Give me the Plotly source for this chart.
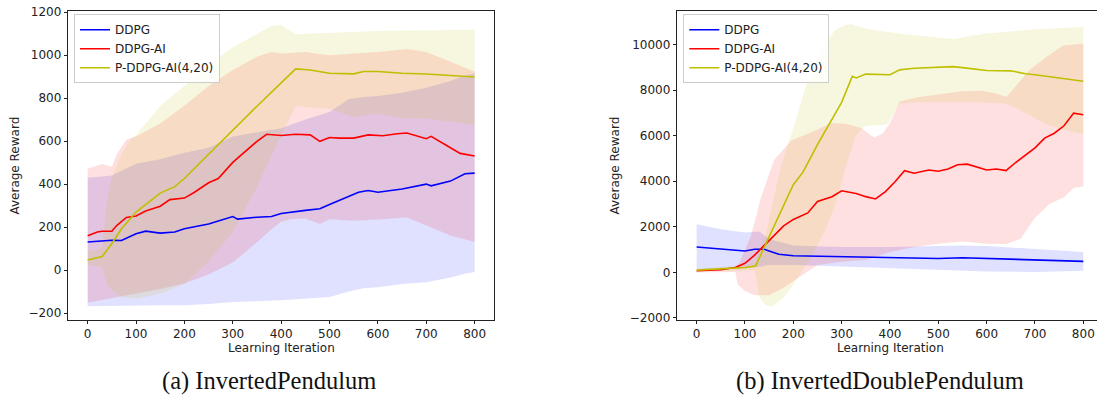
import plotly.graph_objects as go

# ---------------- (a) InvertedPendulum ----------------
ip_ddpg_x = [0, 50, 70, 100, 120, 150, 180, 200, 250, 300, 310, 350, 380, 400, 450, 480, 500, 530, 560, 580, 600, 650, 700, 710, 750, 780, 800]
ip_ddpg_y = [131, 139, 138, 169, 181, 172, 177, 192, 214, 249, 237, 246, 249, 263, 278, 285, 305, 335, 362, 370, 362, 377, 400, 392, 414, 448, 451]

ip_ai_x = [0, 20, 30, 50, 60, 80, 100, 120, 150, 170, 200, 220, 250, 270, 300, 320, 350, 370, 400, 430, 460, 480, 500, 520, 550, 580, 610, 640, 660, 700, 710, 750, 770, 800]
ip_ai_y = [160, 177, 181, 181, 207, 245, 252, 275, 297, 328, 335, 361, 406, 426, 501, 539, 599, 632, 626, 632, 629, 599, 617, 614, 614, 629, 625, 634, 638, 611, 622, 569, 543, 531]

ip_p_x = [0, 30, 50, 70, 100, 150, 180, 200, 250, 300, 350, 400, 430, 460, 500, 550, 570, 600, 650, 700, 750, 800]
ip_p_y = [47, 63, 124, 192, 270, 358, 388, 426, 539, 652, 762, 871, 936, 931, 916, 913, 924, 924, 916, 912, 904, 898]

ip_ddpg_band_x = [0, 50, 100, 150, 200, 250, 300, 350, 400, 450, 500, 540, 570, 600, 650, 700, 750, 780, 800]
ip_ddpg_upper = [430, 440, 495, 516, 546, 569, 622, 640, 660, 700, 735, 796, 805, 810, 825, 848, 880, 905, 916]
ip_ddpg_lower = [-168, -166, -165, -164, -163, -158, -148, -145, -140, -133, -125, -100, -85, -80, -65, -57, -35, -17, -9]

ip_ai_band_x = [0, 20, 30, 50, 60, 80, 100, 150, 200, 250, 300, 350, 380, 400, 420, 450, 480, 500, 550, 600, 660, 700, 750, 800]
ip_ai_upper = [471, 486, 494, 481, 539, 607, 622, 682, 765, 856, 931, 992, 1014, 1007, 1010, 1014, 1005, 999, 1007, 1014, 1029, 1014, 969, 924]
ip_ai_lower = [-152, -145, -140, -133, -128, -118, -110, -88, -62, -20, 35, 130, 190, 225, 237, 240, 214, 237, 229, 235, 245, 207, 161, 131]

ip_p_band_x = [0, 30, 40, 50, 70, 90, 100, 150, 200, 250, 300, 350, 380, 400, 430, 450, 500, 550, 600, 650, 700, 750, 800]
ip_p_upper = [86, 101, 327, 433, 539, 614, 629, 765, 856, 954, 1037, 1097, 1135, 1140, 1097, 1100, 1105, 1108, 1112, 1114, 1115, 1117, 1118]
ip_p_lower = [26, 11, -65, -95, -125, -130, -133, -110, -65, 41, 177, 388, 530, 629, 765, 758, 750, 712, 728, 705, 705, 690, 675]

# ---------------- (b) InvertedDoublePendulum ----------------
idp_ddpg_x = [0, 50, 70, 100, 120, 140, 150, 170, 200, 250, 300, 350, 400, 450, 500, 550, 600, 650, 700, 750, 800]
idp_ddpg_y = [1113, 1013, 970, 942, 1013, 1013, 942, 799, 728, 713, 670, 670, 670, 642, 613, 642, 613, 585, 542, 514, 485]

idp_ai_x = [0, 50, 80, 100, 120, 140, 160, 180, 200, 230, 250, 280, 300, 330, 350, 370, 390, 410, 430, 450, 480, 500, 520, 540, 560, 580, 600, 620, 640, 660, 680, 700, 720, 740, 760, 780, 800]
idp_ai_y = [71, 114, 214, 399, 756, 1184, 1612, 2040, 2325, 2611, 3110, 3324, 3581, 3466, 3324, 3224, 3538, 3966, 4465, 4351, 4494, 4437, 4536, 4722, 4750, 4608, 4494, 4536, 4465, 4822, 5150, 5464, 5892, 6106, 6434, 6990, 6919]

idp_p_x = [0, 50, 100, 122, 150, 200, 220, 250, 300, 322, 330, 350, 400, 420, 450, 500, 530, 550, 600, 650, 680, 700, 750, 800]
idp_p_y = [100, 143, 214, 285, 1550, 3850, 4400, 5606, 7461, 8602, 8531, 8702, 8673, 8887, 8959, 9001, 9030, 8987, 8859, 8845, 8716, 8673, 8531, 8388]

idp_ddpg_band_x = [0, 50, 100, 130, 150, 200, 300, 400, 500, 550, 600, 700, 800]
idp_ddpg_upper = [2111, 1897, 1755, 1797, 1469, 1184, 1113, 1113, 1155, 1184, 1155, 1041, 899]
idp_ddpg_lower = [114, 150, 185, 250, 328, 328, 257, 214, 114, 80, 43, 14, 71]

idp_ai_upper_x = [0, 80, 88, 100, 112, 125, 132, 160, 195, 243, 278, 312, 340, 367, 385, 400, 420, 460, 500, 550, 590, 620, 641, 689, 724, 758, 800]
idp_ai_upper = [150, 250, 400, 1000, 1600, 2600, 3221, 4923, 5774, 6200, 6557, 6511, 6340, 5915, 6100, 6557, 7500, 7700, 7800, 7950, 7974, 7850, 7700, 8894, 9461, 9957, 10030]
idp_ai_lower_x = [0, 80, 85, 100, 120, 150, 180, 200, 250, 300, 350, 400, 450, 500, 550, 600, 641, 670, 700, 730, 760, 780, 800]
idp_ai_lower = [0, 20, -528, -813, -999, -999, -670, -385, 328, 471, 542, 899, 1113, 1255, 1355, 1255, 1250, 1469, 2400, 3000, 3300, 3700, 3770]

idp_p_upper_x = [0, 100, 120, 130, 144, 158, 172, 186, 200, 214, 228, 250, 271, 285, 306, 320, 356, 426, 500, 533, 568, 600, 700, 800]
idp_p_upper = [143, 328, 470, 900, 1755, 3181, 4465, 5464, 6320, 7318, 8317, 9315, 10171, 10599, 10856, 10884, 10670, 10456, 10314, 10242, 10385, 10485, 10670, 10770]
idp_p_lower_x = [0, 120, 125, 130, 140, 150, 160, 180, 200, 230, 250, 270, 290, 310, 330, 350, 380, 395, 420, 450, 500, 550, 600, 641, 689, 724, 758, 800]
idp_p_lower = [43, 100, -528, -1098, -1384, -1498, -1455, -1098, -528, 471, 1184, 2040, 3181, 4750, 6034, 6434, 6462, 6500, 7400, 7450, 7480, 7470, 7450, 7400, 6910, 6482, 6270, 6060]

series_names = ["DDPG", "DDPG-AI", "P-DDPG-AI(4,20)"]
line_colors = ["#0000ff", "#ff0000", "#bfbf00"]
fill_colors = ["rgba(0,0,255,0.12)", "rgba(255,0,0,0.12)", "rgba(191,191,0,0.12)"]

W, H = 1097, 406
FONT = "DejaVu Sans"
FS = 12

fig = go.Figure()


def band(ux, uy, lx, ly, color, xa, ya):
    fig.add_trace(go.Scatter(
        x=list(ux) + list(lx)[::-1], y=list(uy) + list(ly)[::-1],
        fill="toself", fillcolor=color, line=dict(width=0), mode="lines",
        hoverinfo="skip", showlegend=False, xaxis=xa, yaxis=ya))


def line(x, y, name, color, xa, ya, legend):
    fig.add_trace(go.Scatter(
        x=x, y=y, name=name, mode="lines", line=dict(color=color, width=1.6),
        xaxis=xa, yaxis=ya, legend=legend))


# bands (a)
band(ip_ddpg_band_x, ip_ddpg_upper, ip_ddpg_band_x, ip_ddpg_lower, fill_colors[0], "x", "y")
band(ip_ai_band_x, ip_ai_upper, ip_ai_band_x, ip_ai_lower, fill_colors[1], "x", "y")
band(ip_p_band_x, ip_p_upper, ip_p_band_x, ip_p_lower, fill_colors[2], "x", "y")
# bands (b)
band(idp_ddpg_band_x, idp_ddpg_upper, idp_ddpg_band_x, idp_ddpg_lower, fill_colors[0], "x2", "y2")
band(idp_ai_upper_x, idp_ai_upper, idp_ai_lower_x, idp_ai_lower, fill_colors[1], "x2", "y2")
band(idp_p_upper_x, idp_p_upper, idp_p_lower_x, idp_p_lower, fill_colors[2], "x2", "y2")

# lines (a)
line(ip_ddpg_x, ip_ddpg_y, series_names[0], line_colors[0], "x", "y", "legend")
line(ip_ai_x, ip_ai_y, series_names[1], line_colors[1], "x", "y", "legend")
line(ip_p_x, ip_p_y, series_names[2], line_colors[2], "x", "y", "legend")
# lines (b)
line(idp_ddpg_x, idp_ddpg_y, series_names[0], line_colors[0], "x2", "y2", "legend2")
line(idp_ai_x, idp_ai_y, series_names[1], line_colors[1], "x2", "y2", "legend2")
line(idp_p_x, idp_p_y, series_names[2], line_colors[2], "x2", "y2", "legend2")

ydom = [1 - 323.3 / H, 1 - 6 / H]
axis_common = dict(showline=True, linecolor="#222", linewidth=1, ticks="outside", ticklen=3.5,
                   tickcolor="#222", tickwidth=1, showgrid=False, zeroline=False,
                   tickfont=dict(family=FONT, size=FS, color="#222"))

legend_common = dict(bgcolor="rgba(255,255,255,0.8)", bordercolor="#cccccc", borderwidth=1,
                     font=dict(family=FONT, size=FS, color="#222"), xanchor="left", yanchor="top",
                     tracegroupgap=0)

fig.update_layout(
    width=W, height=H, margin=dict(l=0, r=0, t=0, b=0),
    paper_bgcolor="white", plot_bgcolor="white",
    font=dict(family=FONT, size=FS, color="#222"),
    xaxis=dict(domain=[68.3 / W, 494 / W], range=[-40, 840], tickmode="linear", tick0=0, dtick=100,
               mirror=True, anchor="y", **axis_common),
    yaxis=dict(domain=ydom, range=[-230, 1206], tickmode="linear", tick0=0, dtick=200,
               mirror=True, anchor="x", tickformat="d", **axis_common),
    xaxis2=dict(domain=[677.3 / W, 1.0], range=[-40, 828.3], tickmode="linear", tick0=0, dtick=100,
                mirror=True, anchor="y2", **axis_common),
    yaxis2=dict(domain=ydom, range=[-2068, 11477], tickmode="linear", tick0=0, dtick=2000,
                mirror=False, anchor="x2", tickformat="d", **axis_common),
    legend=dict(x=74 / W, y=1 - 9.5 / H, **legend_common),
    legend2=dict(x=683.3 / W, y=1 - 9.5 / H, **legend_common),
    showlegend=True,
)

annots = [
    dict(text="Average Reward", x=15 / W, y=1 - 165 / H, textangle=-90, font=dict(family=FONT, size=FS, color="#222")),
    dict(text="Average Reward", x=615 / W, y=1 - 165 / H, textangle=-90, font=dict(family=FONT, size=FS, color="#222")),
    dict(text="Learning Iteration", x=281 / W, y=1 - 353 / H, font=dict(family=FONT, size=FS, color="#222")),
    dict(text="Learning Iteration", x=890 / W, y=1 - 353 / H, font=dict(family=FONT, size=FS, color="#222")),
    dict(text="(a) InvertedPendulum", x=269 / W, y=1 - 386 / H, font=dict(family="Liberation Serif", size=24.5, color="#111")),
    dict(text="(b) InvertedDoublePendulum", x=880 / W, y=1 - 386 / H, font=dict(family="Liberation Serif", size=24.5, color="#111")),
]
for a in annots:
    fig.add_annotation(xref="paper", yref="paper", showarrow=False, xanchor="center", yanchor="middle", **a)

fig.write_html("out.html")
